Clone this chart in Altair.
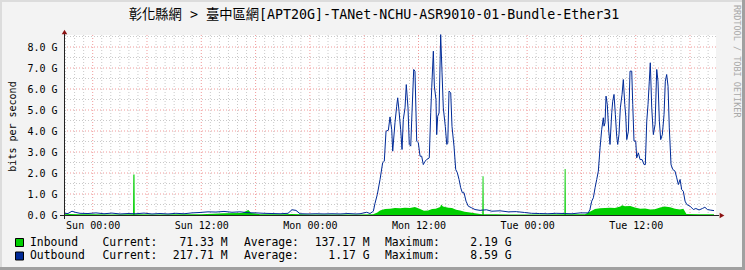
import altair as alt
import pandas as pd
import json

# ---------------- data (hours relative to Sun 00:00, values in Gbit/s) -------------
out_hours = [-3.17, -2.73, -2.29, -1.85, -1.40, -0.52, 0.36, 1.25, 2.13, 3.02, 3.90, 4.78,
             5.67, 6.55, 7.44, 8.32, 9.20, 10.09, 10.97, 11.86, 12.74, 13.62, 14.51, 15.39,
             16.27, 17.16, 18.04, 18.93, 19.81, 20.70, 21.58, 22.02, 22.46, 22.91, 23.79,
             24.67, 25.56, 26.44, 27.33, 28.21, 29.09, 29.54, 30.28, 30.64, 31.01, 31.19,
             31.45, 31.75, 32.04, 32.22, 32.41, 32.67, 32.85, 33.04, 33.15, 33.40, 33.59,
             33.70, 33.85, 34.03, 34.18, 34.32, 34.51, 34.65, 34.84, 34.98, 35.14, 35.28,
             35.47, 35.61, 35.80, 35.98, 36.17, 36.35, 36.53, 36.72, 36.91, 37.19, 37.35,
             37.46, 37.64, 37.75, 37.93, 38.01, 38.12, 38.27, 38.45, 38.60, 38.74, 38.96,
             39.12, 39.23, 39.37, 39.56, 39.70, 39.92, 40.11, 40.29, 40.48, 40.66, 40.84,
             41.03, 41.25, 41.50, 41.88, 42.24, 42.80, 43.50, 44.10, 45.00, 45.90, 46.80,
             47.70, 48.50, 49.40, 50.30, 51.20, 52.10, 52.96, 53.85, 54.76, 54.94, 55.14,
             55.32, 55.51, 55.69, 55.87, 56.06, 56.24, 56.42, 56.50, 56.61, 56.72, 56.86,
             57.02, 57.16, 57.35, 57.46, 57.60, 57.75, 57.90, 58.01, 58.15, 58.30, 58.49,
             58.63, 58.79, 58.90, 59.01, 59.19, 59.37, 59.56, 59.67, 59.81, 60.00, 60.11,
             60.29, 60.48, 60.70, 60.92, 61.06, 61.22, 61.36, 61.50, 61.61, 61.77, 61.95,
             62.14, 62.32, 62.46, 62.61, 62.76, 62.94, 63.13, 63.27, 63.42, 63.57, 63.71,
             63.90, 64.09, 64.34, 64.53, 64.71, 64.90, 65.08, 65.26, 65.45, 65.64, 66.00,
             66.37, 66.64, 67.00, 67.37, 67.64, 67.92, 68.29, 68.65]
out_gbps = [0.08, 0.07, 0.18, 0.12, 0.08, 0.07, 0.10, 0.06, 0.09, 0.05, 0.07, 0.06,
            0.09, 0.05, 0.07, 0.05, 0.08, 0.06, 0.10, 0.12, 0.15, 0.14, 0.17, 0.13,
            0.15, 0.11, 0.10, 0.08, 0.07, 0.06, 0.08, 0.25, 0.22, 0.06, 0.05,
            0.06, 0.05, 0.06, 0.05, 0.07, 0.05, 0.06, 0.13, 0.07, 0.18, 0.55,
            0.98, 1.69, 2.49, 2.56, 3.99, 4.04, 4.67, 4.06, 3.04, 4.39, 5.18,
            5.58, 4.94, 4.06, 3.12, 4.55, 5.10, 6.21, 5.10, 3.36, 3.28, 4.86,
            6.93, 6.85, 3.52, 3.44, 2.80, 2.80, 2.40, 2.56, 2.64, 2.72, 4.87,
            6.06, 7.80, 6.14, 5.50, 3.83, 4.70, 4.86, 8.59, 6.77, 5.10, 4.22,
            3.36, 3.40, 5.90, 5.82, 4.22, 3.28, 2.17, 2.01, 1.69, 1.30, 1.06,
            1.06, 0.66, 0.42, 0.34, 0.26, 0.22, 0.25, 0.18, 0.20, 0.15, 0.16,
            0.12, 0.08, 0.07, 0.06, 0.08, 0.07, 0.06, 0.10, 0.10, 0.26, 0.66,
            0.82, 1.30, 1.69, 2.09, 3.20, 4.07, 4.63, 4.23, 4.39, 5.66, 5.26,
            3.99, 3.36, 4.87, 5.42, 5.74, 4.79, 3.75, 3.36, 3.83, 5.10, 5.74,
            6.45, 5.26, 4.71, 3.59, 3.99, 6.85, 6.85, 5.26, 3.52, 3.52, 2.72,
            2.96, 2.64, 2.64, 2.40, 2.40, 4.47, 5.26, 6.37, 7.25, 5.10, 3.83,
            4.31, 6.93, 6.37, 4.47, 3.59, 3.83, 4.79, 6.37, 6.69, 6.13, 4.15,
            2.40, 2.17, 2.09, 1.77, 1.45, 1.69, 1.21, 1.13, 0.66, 0.50, 0.42,
            0.26, 0.31, 0.24, 0.31, 0.37, 0.26, 0.23, 0.21]

in_hours = [-3.17, -2.5, -1.5, 0.0, 2.0, 4.46, 4.49, 4.62, 4.65, 7.0, 10.0, 12.0, 14.5,
            16.5, 17.2, 17.5, 18.5, 21.0, 22.0, 24.0, 27.0, 29.5, 31.0, 31.45, 31.75,
            32.3, 32.85, 33.4, 33.97, 34.5, 35.06, 35.6, 36.17, 36.6, 37.05, 37.5, 37.9,
            38.4, 38.5, 38.7, 39.3, 39.7, 40.15, 40.6, 41.1, 41.7, 42.24, 42.8, 43.05,
            43.08, 43.18, 43.21, 44.5, 47.0, 50.0, 52.12, 52.15, 52.25, 52.28, 53.5,
            54.4, 54.94, 55.5, 56.06, 57.16, 57.7, 58.3, 58.5, 58.8, 59.4, 59.9, 60.5,
            61.04, 61.6, 62.1, 62.7, 63.2, 63.8, 64.34, 64.9, 65.26, 65.6, 67.0, 68.65]
in_gbps = [0.03, 0.05, 0.03, 0.03, 0.02, 0.03, 1.93, 1.93, 0.03, 0.02, 0.03, 0.04, 0.08,
           0.10, 0.24, 0.10, 0.04, 0.03, 0.05, 0.02, 0.02, 0.02, 0.03, 0.12, 0.22,
           0.28, 0.30, 0.33, 0.32, 0.35, 0.33, 0.38, 0.28, 0.20, 0.22, 0.28, 0.30,
           0.38, 0.50, 0.40, 0.35, 0.33, 0.25, 0.22, 0.15, 0.12, 0.08, 0.05, 0.04,
           1.85, 1.85, 0.04, 0.03, 0.02, 0.02, 0.03, 2.19, 2.19, 0.03, 0.03,
           0.04, 0.15, 0.28, 0.32, 0.35, 0.33, 0.40, 0.47, 0.42, 0.43, 0.36, 0.30,
           0.31, 0.26, 0.27, 0.36, 0.40, 0.37, 0.30, 0.26, 0.30, 0.05, 0.04, 0.03]

x_label_hours = [0, 12, 24, 36, 48, 60]
x_labels = ["Sun 00:00", "Sun 12:00", "Mon 00:00", "Mon 12:00", "Tue 00:00", "Tue 12:00"]
y_label_values = [0, 1, 2, 3, 4, 5, 6, 7, 8]

title_text = "彰化縣網 > 臺中區網[APT20G]-TANet-NCHU-ASR9010-01-Bundle-Ether31"
series_names = ["Inbound", "Outbound"]
series_colors = ["#00CF00", "#002A97"]
current_vals = ["71.33 M", "217.71 M"]
average_vals = ["137.17 M", "1.17 G"]
maximum_vals = ["2.19 G", "8.59 G"]

# ---------------- layout ----------------
CW, CH = 745, 270
W, H = 652, 180
LEFT, TOP = 64, 35
X_DOMAIN = [-3.17, 68.87]
Y_DOMAIN = [0, H / 21.0]
MONO = "DejaVu Sans Mono"

xs = alt.Scale(domain=X_DOMAIN, nice=False, zero=False)
ys = alt.Scale(domain=Y_DOMAIN, nice=False, zero=True)

label_expr = json.dumps(x_labels) + "[round(datum.value/12)]"

X_AX = alt.Axis(values=x_label_hours, labelExpr=label_expr, grid=False, domain=False,
                ticks=False, labelPadding=5, labelFont=MONO, labelFontSize=10,
                labelColor="#000000", title=None, labelFlush=False)
Y_AX = alt.Axis(values=y_label_values, labelExpr="format(datum.value, '.1f') + ' G'",
                grid=False, domain=False, ticks=False, labelPadding=7, labelFont=MONO,
                labelFontSize=10, labelColor="#000000", title="bits per second",
                titleFont=MONO, titleFontSize=10, titleFontWeight="normal",
                titleColor="#000000", titleX=-52, titleY=91, titleAngle=270,
                titleAlign="center", titleBaseline="middle", labelFlush=False)

minor_v = [h for h in range(-3, 69) if h % 6 != 0]
major_v = [h for h in range(-3, 69) if h % 6 == 0]
minor_h = [i + 0.5 for i in range(0, 9)]
major_h = [i for i in range(1, 9)]

def vrules(hours, color):
    return alt.Chart(pd.DataFrame({"h": hours})).mark_rule(
        color=color, strokeDash=[1, 2], strokeWidth=1
    ).encode(x=alt.X("h:Q", scale=xs, axis=X_AX))

def hrules(vals, color):
    return alt.Chart(pd.DataFrame({"v": vals})).mark_rule(
        color=color, strokeDash=[1, 2], strokeWidth=1
    ).encode(y=alt.Y("v:Q", scale=ys, axis=Y_AX))

grid = [vrules(minor_v, "#c9c9c9"), hrules(minor_h, "#c9c9c9"),
        vrules(major_v, "#f09a9a"), hrules(major_h, "#f09a9a")]

inb = pd.DataFrame({"h": in_hours, "v": in_gbps})
outb = pd.DataFrame({"h": out_hours, "v": out_gbps})

area = alt.Chart(inb).mark_area(color=series_colors[0], opacity=1).encode(
    x=alt.X("h:Q", scale=xs, axis=X_AX),
    y=alt.Y("v:Q", scale=ys, axis=Y_AX),
)

line = alt.Chart(outb).mark_line(color=series_colors[1], strokeWidth=1).encode(
    x=alt.X("h:Q", scale=xs, axis=X_AX),
    y=alt.Y("v:Q", scale=ys, axis=Y_AX),
)

one = pd.DataFrame({"k": [0]})

# frame shading (3D border)
def band(x1, x2, y1, y2, color):
    return alt.Chart(one).mark_rect(color=color).encode(
        x=alt.value(x1 - LEFT), x2=alt.value(x2 - LEFT),
        y=alt.value(y1 - TOP), y2=alt.value(y2 - TOP))

frame = [band(0, CW, 0, 2, "#dcdcdc"), band(0, 2, 0, CH, "#dcdcdc"),
         band(CW - 3, CW, 0, CH, "#a0a0a0"), band(0, CW, CH - 3, CH, "#a0a0a0")]

# axis lines and arrows
xaxis_line = alt.Chart(one).mark_rule(color="#222222", strokeWidth=1).encode(
    x=alt.value(-4), x2=alt.value(W + 3), y=alt.value(H + 0.5))
yaxis_line = alt.Chart(one).mark_rule(color="#222222", strokeWidth=1).encode(
    x=alt.value(0.5), y=alt.value(H + 4), y2=alt.value(-2))
arrow_r = alt.Chart(one).mark_point(shape="triangle-right", filled=True, color="#8B1111",
                                    size=30, opacity=1).encode(
    x=alt.value(W + 6), y=alt.value(H + 0.5))
arrow_u = alt.Chart(one).mark_point(shape="triangle-up", filled=True, color="#8B1111",
                                    size=30, opacity=1).encode(
    x=alt.value(0.5), y=alt.value(-3))

# title
title = alt.Chart(pd.DataFrame({"t": [title_text]})).mark_text(
    font=MONO + ", Noto Sans CJK TC", fontSize=13.3, color="#000000",
    align="center", baseline="middle").encode(
    x=alt.value(374 - LEFT), y=alt.value(14.5 - TOP), text="t:N")

# watermark
wm = alt.Chart(pd.DataFrame({"t": ["RRDTOOL / TOBI OETIKER"]})).mark_text(
    font=MONO, fontSize=8.5, color="#a8a8a8", align="left", baseline="middle",
    angle=90).encode(x=alt.value(736.5 - LEFT), y=alt.value(5 - TOP), text="t:N")

# legend
legend_layers = []
row_y = [242.5, 256.0]
for i in range(2):
    yy = row_y[i] - TOP
    legend_layers.append(
        alt.Chart(pd.DataFrame({"c": [series_colors[i]]})).mark_rect(
            stroke="#000000", strokeWidth=1).encode(
            x=alt.value(15.5 - LEFT), x2=alt.value(23.5 - LEFT),
            y=alt.value(yy - 4), y2=alt.value(yy + 4),
            color=alt.Color("c:N", scale=None, legend=None)))
    cells = [
        (series_names[i], 30, "left"),
        ("Current:", 102.5, "left"),
        (current_vals[i], 227.5, "right"),
        ("Average:", 244, "left"),
        (average_vals[i], 369.5, "right"),
        ("Maximum:", 385, "left"),
        (maximum_vals[i], 511.5, "right"),
    ]
    for txt, px, al in cells:
        legend_layers.append(
            alt.Chart(pd.DataFrame({"t": [txt]})).mark_text(
                font=MONO, fontSize=11.4, color="#000000", align=al,
                baseline="middle").encode(
                x=alt.value(px - LEFT), y=alt.value(yy), text="t:N"))

chart = alt.layer(
    *grid, area, line, xaxis_line, yaxis_line, arrow_r, arrow_u, *frame, title, wm,
    *legend_layers
).properties(
    width=W, height=H, autosize="none",
    padding={"left": LEFT, "top": TOP, "right": CW - LEFT - W, "bottom": CH - TOP - H},
    background="#f3f3f3",
).configure_view(fill="#ffffff", stroke=None)

chart.save("out.html", embed_options={"renderer": "svg", "actions": False})
